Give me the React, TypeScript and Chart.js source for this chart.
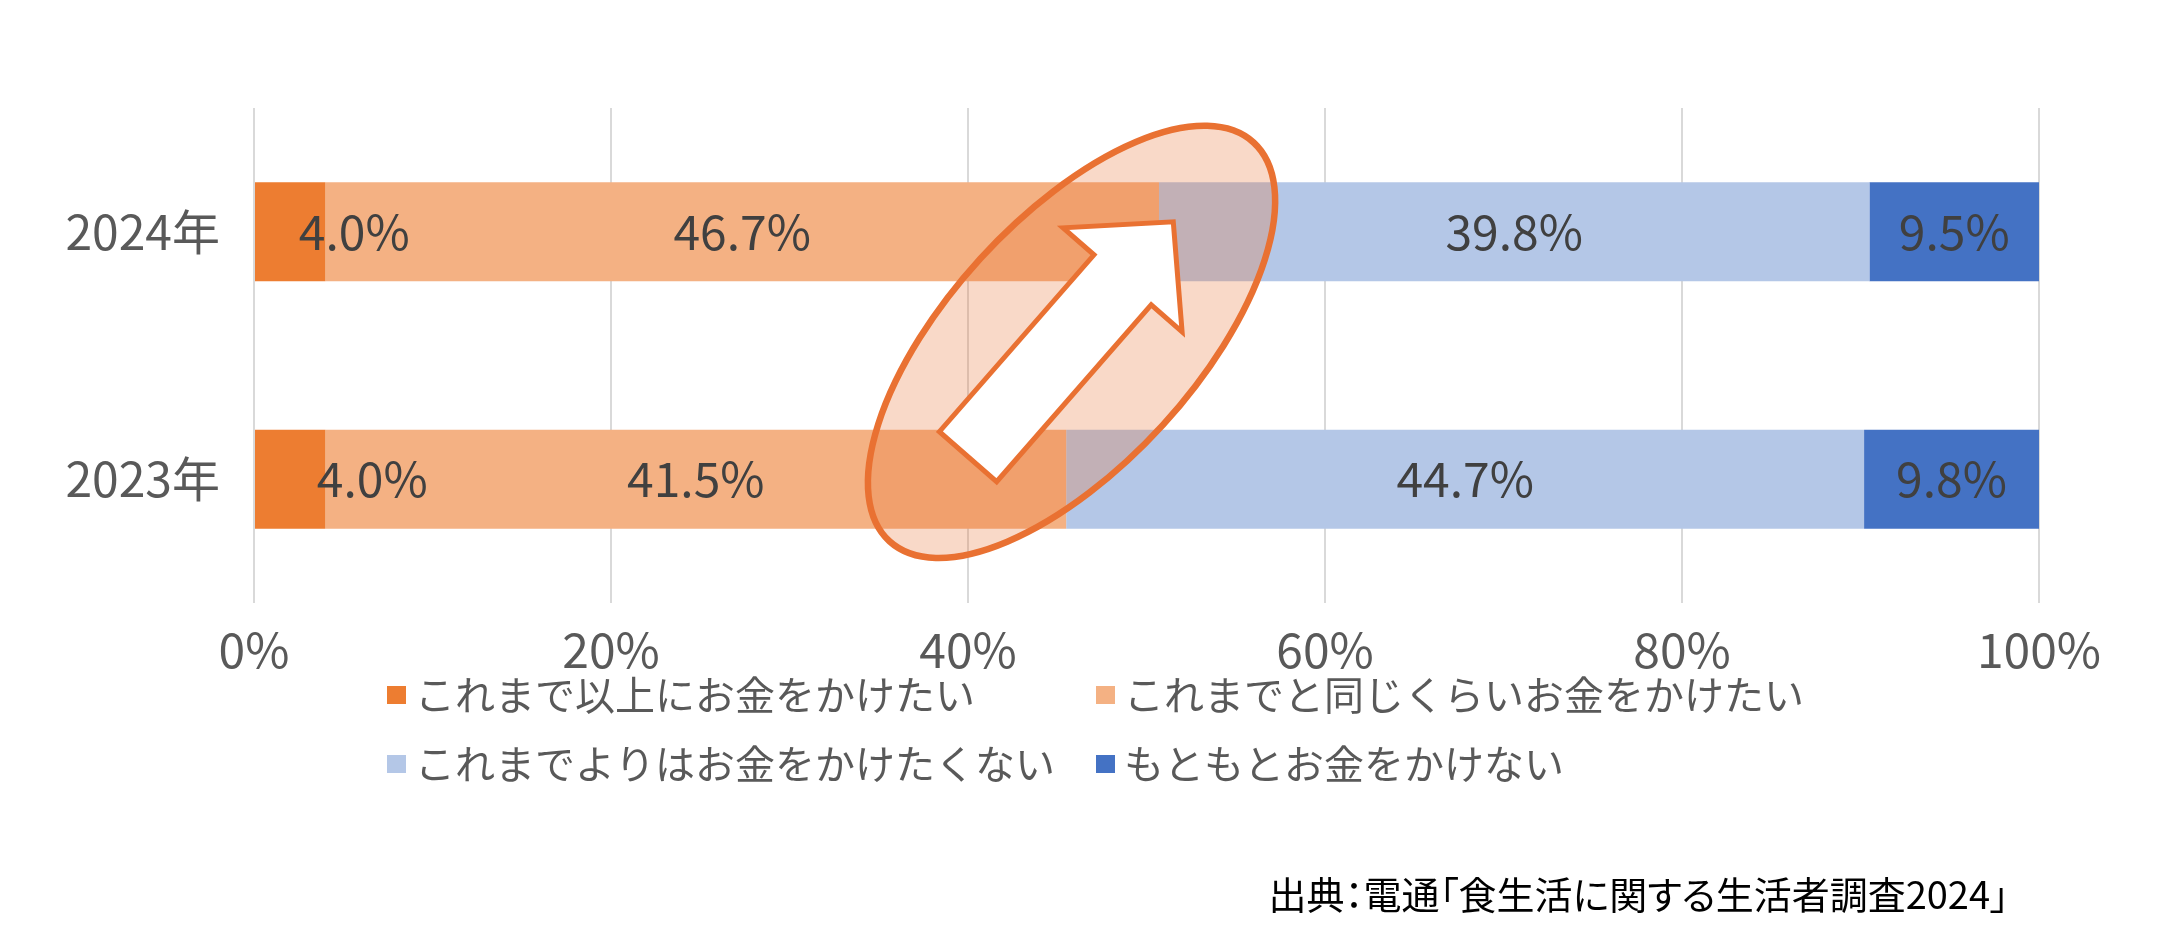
import React, { useEffect, useRef } from "react";
import { Chart, registerables } from "chart.js";

Chart.register(...registerables);

// ---- data ----
const categories = ["2024年", "2023年"];
const seriesNames = [
  "これまで以上にお金をかけたい",
  "これまでと同じくらいお金をかけたい",
  "これまでよりはお金をかけたくない",
  "もともとお金をかけない",
];
const moreSpend = [4.0, 4.0];
const sameSpend = [46.7, 41.5];
const lessSpend = [39.8, 44.7];
const neverSpend = [9.5, 9.8];
const sourceNote = "出典：電通「食生活に関する生活者調査2024」";

// ---- styles ----
const seriesColors = ["#ED7D31", "#F4B183", "#B4C7E7", "#4472C4"];
const FONT = '"Noto Sans CJK JP", "Noto Sans", sans-serif';
// horizontal nudges (px) for data labels, per series then per category
const labelShiftX = [
  [64, 82],
  [0, 0],
  [0, 0],
  [0, 0],
];
// highlight annotation, anchored on scale values (x in %, y in category index)
const highlight = { xValue: 45.8, yIndex: 0.445, rx: 270, ry: 123.5, angleDeg: -47.6 };
const arrow = {
  fromX: 40.0,
  fromIndex: 0.909,
  toX: 51.5,
  toIndex: -0.04,
  shaftHalf: 38,
  headHalf: 79,
  headLen: 77,
};
const legendCols = [387, 1096];
const legendRows = [695, 764];

const ORANGE_LINE = "#E97132";

export default function App() {
  const ref = useRef<HTMLCanvasElement | null>(null);

  useEffect(() => {
    document.body.style.margin = "0";
    const canvas = ref.current;
    if (!canvas) return;

    const yPixAt = (chart: any, idx: number) => {
      const y = chart.scales.y;
      const p0 = y.getPixelForValue(0);
      const p1 = y.getPixelForValue(1);
      return p0 + idx * (p1 - p0);
    };

    const overlayPlugin = {
      id: "overlay",
      afterDatasetsDraw(chart: any) {
        const ctx = chart.ctx as CanvasRenderingContext2D;
        const xs = chart.scales.x;

        // ellipse
        const cx = xs.getPixelForValue(highlight.xValue);
        const cy = yPixAt(chart, highlight.yIndex);
        ctx.save();
        ctx.translate(cx, cy);
        ctx.rotate((highlight.angleDeg * Math.PI) / 180);
        ctx.beginPath();
        ctx.ellipse(0, 0, highlight.rx, highlight.ry, 0, 0, Math.PI * 2);
        ctx.fillStyle = "rgba(233,113,50,0.27)";
        ctx.fill();
        ctx.lineWidth = 6.5;
        ctx.strokeStyle = ORANGE_LINE;
        ctx.stroke();
        ctx.restore();

        // block arrow
        const tx = xs.getPixelForValue(arrow.fromX);
        const ty = yPixAt(chart, arrow.fromIndex);
        const px = xs.getPixelForValue(arrow.toX);
        const py = yPixAt(chart, arrow.toIndex);
        const L = Math.hypot(px - tx, py - ty);
        const ux = (px - tx) / L;
        const uy = (py - ty) / L;
        const nx = -uy;
        const ny = ux;
        const bx = px - ux * arrow.headLen;
        const by = py - uy * arrow.headLen;
        const s = arrow.shaftHalf;
        const h = arrow.headHalf;
        ctx.save();
        ctx.beginPath();
        ctx.moveTo(tx + nx * s, ty + ny * s);
        ctx.lineTo(bx + nx * s, by + ny * s);
        ctx.lineTo(bx + nx * h, by + ny * h);
        ctx.lineTo(px, py);
        ctx.lineTo(bx - nx * h, by - ny * h);
        ctx.lineTo(bx - nx * s, by - ny * s);
        ctx.lineTo(tx - nx * s, ty - ny * s);
        ctx.closePath();
        ctx.fillStyle = "#FFFFFF";
        ctx.fill();
        ctx.lineWidth = 5;
        ctx.lineJoin = "miter";
        ctx.strokeStyle = ORANGE_LINE;
        ctx.stroke();
        ctx.restore();

        // data labels
        ctx.save();
        ctx.font = `48px ${FONT}`;
        ctx.fillStyle = "#404040";
        ctx.textAlign = "center";
        ctx.textBaseline = "middle";
        chart.data.datasets.forEach((ds: any, di: number) => {
          const meta = chart.getDatasetMeta(di);
          meta.data.forEach((el: any, i: number) => {
            const v = ds.data[i];
            const xc = (el.x + el.base) / 2 + labelShiftX[di][i];
            ctx.fillText(`${v.toFixed(1)}%`, xc, el.y);
          });
        });
        ctx.restore();
      },
      afterDraw(chart: any) {
        const ctx = chart.ctx as CanvasRenderingContext2D;
        // legend
        ctx.save();
        ctx.font = `40px ${FONT}`;
        ctx.textBaseline = "middle";
        ctx.textAlign = "left";
        chart.data.datasets.forEach((ds: any, i: number) => {
          const col = legendCols[i % 2];
          const row = legendRows[Math.floor(i / 2)];
          ctx.fillStyle = ds.backgroundColor;
          ctx.fillRect(col, row - 9, 19, 18);
          ctx.fillStyle = "#595959";
          ctx.fillText(ds.label, col + 28, row);
        });
        ctx.restore();
      },
    };

    const seriesData = [moreSpend, sameSpend, lessSpend, neverSpend];

    const chart = new Chart(canvas, {
      type: "bar",
      data: {
        labels: categories,
        datasets: seriesData.map((d, i) => ({
          label: seriesNames[i],
          data: d,
          backgroundColor: seriesColors[i],
          borderWidth: 0,
          barPercentage: 0.5,
          categoryPercentage: 0.8,
        })),
      },
      options: {
        indexAxis: "y",
        responsive: false,
        animation: false,
        devicePixelRatio: 1,
        layout: { padding: { left: 0, top: 108, right: 129, bottom: 252 } },
        plugins: {
          legend: { display: false },
          title: { display: false },
          tooltip: { enabled: false },
        },
        scales: {
          x: {
            stacked: true,
            min: 0,
            max: 100,
            ticks: {
              stepSize: 20,
              padding: 18,
              color: "#595959",
              font: { family: FONT, size: 48 },
              callback: (v: any) => `${v}%`,
            },
            grid: { color: "#D9D9D9", lineWidth: 2, drawTicks: false },
            border: { display: false },
            afterFit: (s: any) => {
              s.height = 80;
            },
          },
          y: {
            stacked: true,
            ticks: {
              padding: 34,
              color: "#595959",
              font: { family: FONT, size: 48 },
            },
            grid: { display: false, drawTicks: false },
            border: { display: false },
            afterFit: (s: any) => {
              s.width = 254;
            },
          },
        },
      },
      plugins: [overlayPlugin],
    } as any);

    return () => chart.destroy();
  }, []);

  return (
    <div style={{ position: "relative", width: 2168, height: 935, background: "#FFFFFF" }}>
      <canvas ref={ref} width={2168} height={935} style={{ display: "block" }} />
      <div
        style={{
          position: "absolute",
          right: 159,
          top: 874,
          fontFamily: FONT,
          fontSize: 38,
          lineHeight: "38px",
          color: "#000000",
          whiteSpace: "nowrap",
          fontFeatureSettings: '"palt" 1',
        }}
      >
        {sourceNote}
      </div>
    </div>
  );
}
